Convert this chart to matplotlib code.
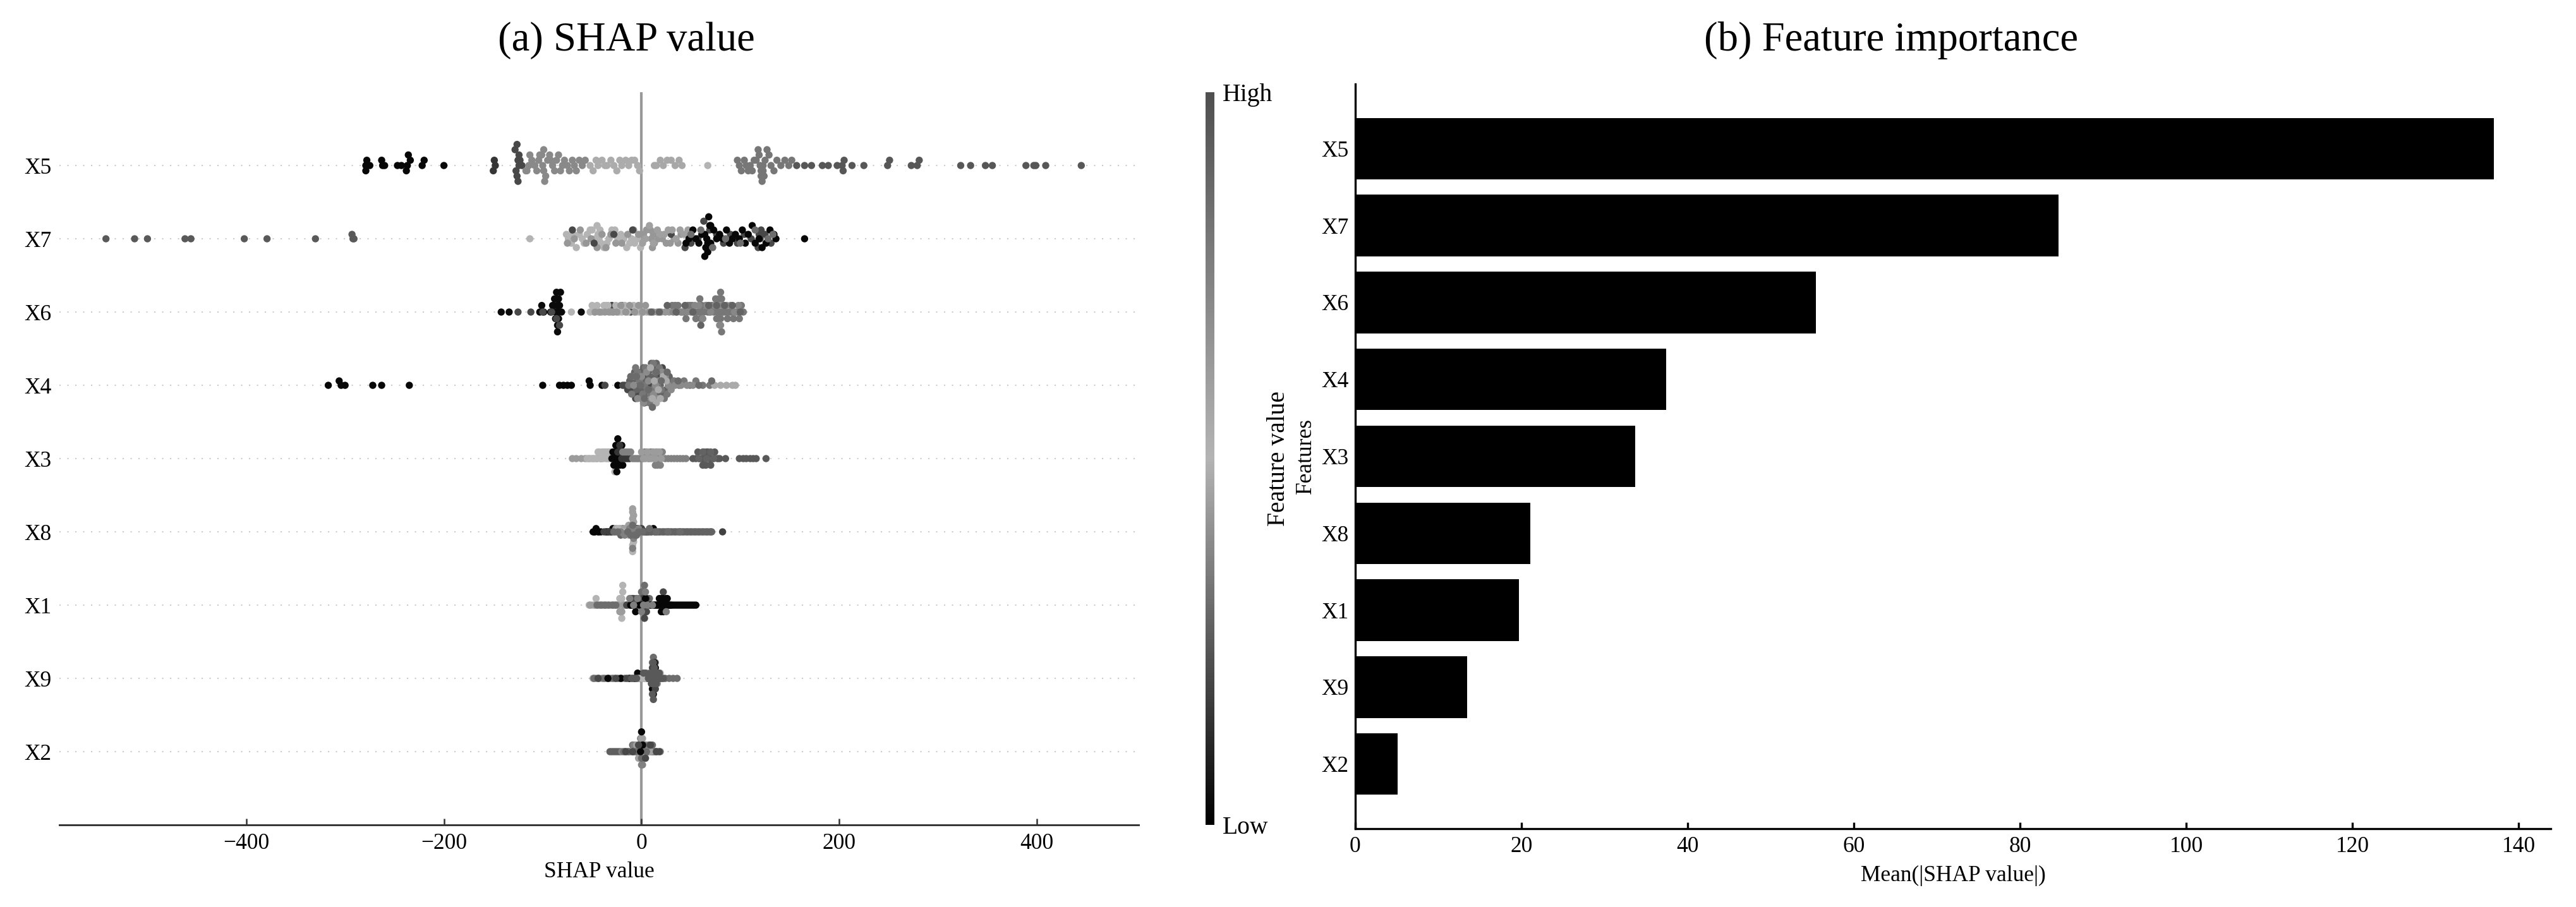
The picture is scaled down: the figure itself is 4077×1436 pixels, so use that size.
import numpy as np
import matplotlib.pyplot as plt
from matplotlib.colors import LinearSegmentedColormap

plt.rcParams['font.family'] = ['Liberation Serif', 'DejaVu Serif']

# feature order, top to bottom
features = ['X5', 'X7', 'X6', 'X4', 'X3', 'X8', 'X1', 'X9', 'X2']

# mean |SHAP| per feature (panel b)
mean_abs_shap = [137.0, 84.6, 55.4, 37.4, 33.7, 21.1, 19.7, 13.5, 5.1]

# SHAP values per feature, grouped by (feature value, [shap values])
x5_points = [
    (0.02, [-279, -279, -278, -275, -263, -262, -260, -247, -243, -238, -237, -236, -234, -222, -220, -200]),
    (0.15, [-150, -149, -148]),
    (0.20, [-128, -127, -126, -126, -125, -125, -124, -124, -123, -121]),
    (0.38, [-117, -116, -114, -113, -111, -108, -106, -104, -103, -101, -100, -99, -99, -98, -97, -95,
            -93, -92, -90, -88, -86, -84, -82, -80, -78, -75, -73, -70, -68, -66, -63, -60, -57]),
    (0.48, [-52, -49, -46, -44, -40, -37, -35, -31, -28, -25, -22, -20, -16, -13, -10, -7, -4, -2]),
    (0.56, [13, 15, 19, 22, 26, 30, 34, 38, 41]),
    (0.50, [67]),
    (0.80, [97, 99, 101, 104, 106, 108, 110, 112, 114, 116, 118, 119, 120, 121, 121, 122, 123, 123,
            124, 125, 127, 129, 131, 134, 137, 141, 145, 149, 152]),
    (0.96, [157, 165, 172, 183, 189, 198, 203, 204, 205, 213, 225, 249, 251, 273, 279, 281, 323, 333,
            348, 355, 389, 397, 399, 409, 445]),
]
x7_points = [
    (0.95, [-542, -513, -500, -462, -456, -402, -379, -330, -293, -292, -291]),
    (0.50, [-113, -76, -74, -71, -69, -66, -63, -60, -58, -55, -52, -50, -47, -45, -44, -43, -42,
            -41, -38, -35, -33, -30, -27, -24, -21, -18, -15, -12, -10, -7, -4, -1]),
    (0.42, [-75, -68, -62, -56, -51, -45, -40, -36, -31, -26, -20, -14, -8, -3, 2, 5, 9, 10, 11, 12,
            13, 17, 21, 25, 29, 33, 37, 40]),
    (0.20, [-70, -48, -28, -9, 30, 44, 50, 57, 63, 69, 76, 83, 90, 97, 104, 111, 118, 119, 120, 121,
            125, 131]),
    (0.60, [1, 4, 8, 12, 16, 19, 23, 27, 31, 35, 39, 43, 47]),
    (0.02, [45, 48, 52, 55, 58, 61, 64, 64, 65, 66, 67, 67, 68, 69, 70, 70, 73, 76, 79, 82, 86, 89,
            92, 95, 99, 102, 105, 108, 112, 115, 119, 122, 126, 130, 134, 136, 165]),
    (0.85, [50, 60, 72, 85, 100, 115, 128, 133]),
]
x6_points = [
    (0.03, [-142, -134, -103, -101, -99, -92, -90, -89, -88, -87, -87, -86, -86, -86, -85, -85, -85,
            -84, -84, -84, -83, -82, -81, -61]),
    (0.20, [-125, -112, -100, -91, -86, -83, -30, -20, -11]),
    (0.50, [-71, -52, -50, -48, -45, -43, -40, -38, -36, -34, -31, -28, -26, -23, -20, -17, -14, -8,
            -5, -2, 2, 5]),
    (0.65, [-47, -42, -37, -33, -29, -25, -21, -16, -12, -7, -3, 1, 4, 8, 12, 16, 20, 24, 28]),
    (0.80, [31, 34, 37, 40, 43, 45, 47, 49, 51, 53, 55, 57, 59, 59, 60, 61, 61, 63, 65, 67, 69, 71,
            73, 75, 76, 77, 78, 79, 79, 80, 80, 81, 81, 82, 83, 85, 87, 89, 91, 93, 95, 97, 99, 101, 103]),
    (0.72, [32, 36, 41, 46, 50, 54, 58, 62, 66, 70, 74, 78, 79, 80, 82, 86, 90, 94, 98]),
    (0.90, [10, 18, 26, 35, 44, 52, 60, 68, 76, 84, 92, 100]),
]
x4_points = [
    (0.02, [-317, -306, -304, -300, -272, -263, -235, -100, -83, -79, -75, -71, -53, -52, -40, -24]),
    (0.20, [-37, -19, -17, -14, -10, -6, -3, 0, 3, 6, 9, 13, 17, 21]),
    (0.90, [-12, -9, -7, -5, -3, -1, 1, 2, 4, 5, 7, 8, 10, 11, 13, 15, 17, 19, 22, 25, 28, 31]),
    (0.80, [-13, -10, -8, -6, -4, -2, 0, 1, 3, 4, 6, 8, 9, 11, 12, 14, 16, 18, 20, 23, 26, 29, 33,
            38, 43, 49, 55, 62, 69]),
    (0.70, [-8, -4, 0, 2, 5, 7, 10, 12, 14, 16, 18, 21, 24, 27, 30, 34, 40, 46, 52]),
    (0.55, [9, 11, 13, 15, 17, 19, 22, 25, 74, 80, 86, 92, 95]),
    (0.30, [-11, -5, -1, 3, 7, 11, 15, 20, 26, 37, 58, 71]),
]
x3_points = [
    (0.62, [-70, -66, -61, -57, -53, -49, -45, -41]),
    (0.50, [-55, -51, -47, -44, -43, -42, -40, -39, -38, -37, -36, -35, -34, -33, -32, -31, -27, -25]),
    (0.02, [-30, -29, -28, -28, -27, -27, -26, -26, -25, -25, -24, -24, -23, -23, -22, -21, -20, -19]),
    (0.15, [-24, -22, -21, -20, -18, -16, -14, -12]),
    (0.75, [-19, -17, -15, -13, -11, -9, -7, -5, -3, -1, 1, 3, 5, 7, 9, 11, 13, 14, 15, 16, 17, 18,
            19, 21, 24, 27, 30, 33, 36, 39, 42, 45]),
    (0.62, [0, 2, 4, 6, 8, 10, 12, 14, 16, 18, 20]),
    (0.95, [52, 55, 57, 59, 61, 62, 63, 64, 65, 66, 67, 68, 69, 70, 72, 74, 77, 79, 85, 99, 103, 106,
            110, 113, 116, 126]),
    (0.90, [58, 62, 66, 70, 73]),
]
x8_points = [
    (0.02, [-49, -48, -47, -46, -44, -43, -41, -36, -34, -31, -29, -6, -4, -2, 5, 12]),
    (0.18, [-38, -33, -30, 0, 3, 7, 10, 14, 18, 22, 26, 30, 34, 38, 42, 46, 50, 54, 58, 62, 66, 70, 82]),
    (0.90, [-27, -25, -23, -21, -19, 2, 6, 9, 13, 16, 20, 24, 28, 32, 36, 40, 44, 48, 52, 56, 60, 64,
            68, 71]),
    (0.60, [-26, -22, -20, -18, -17, -16, -15, -14, -13, -12, -11, -10, -10, -9, -9, -9, -9, -8, -8,
            -8, -7]),
    (0.50, [-24, -19, -15, -13, -11, -10, -9, -9, -9, -8, -7, -6]),
    (0.75, [-21, -17, -12, -10, -9, -8, -5, -3, -1]),
    (0.30, [-28, -24, -14, -11, -9, -7, -5, -3, 1, 8, 15, 27, 39]),
]
x1_points = [
    (0.50, [-53, -50, -48, -46, -44, -42, -40, -38, -36, -34, -31, -28, -25, -23, -22, -22, -21, -21,
            -20, -20, -20, -19, -19, -17]),
    (0.62, [-52, -47, -43, -39, -35, -30, -27, -24, -22, -20, -18, -16, -14]),
    (0.85, [-45, -41, -37, -33, -29, -26, -12, -10, -8, -6, -4, -2, 0, 0, 1, 1, 1, 2, 2, 2, 3, 3, 3,
            4, 4, 5, 6, 8]),
    (0.20, [-15, -11, -9, -7, -5, -3, -1, 1, 3, 3, 3, 5, 5, 7, 10, 14, 18, 22, 26, 30]),
    (0.02, [-11, -9, -6, -2, 0, 4, 9, 12, 13, 15, 16, 17, 18, 19, 20, 20, 20, 21, 22, 22, 23, 24, 25,
            25, 26, 27, 28, 29, 31, 33, 35, 37, 39, 41, 43, 45, 47, 49, 51, 53, 55]),
    (0.35, [-12, -8, -4, 0, 2, 4, 6, 11, 25]),
]
x9_points = [
    (0.62, [-49, -46, -40, -36, -31, -27, -22, -4, 3, 7, 12, 16]),
    (0.85, [-48, -43, -38, -33, -29, -24, -20, -17, -13, 5, 9, 11, 11, 11, 12, 12, 13, 14, 15, 17, 19,
            21, 24, 28, 32, 36]),
    (0.02, [-34, -21, -12, -7, -4, -2, 10, 11, 12, 12, 13, 13, 13, 14, 14, 14, 15]),
    (0.20, [-44, -26, -15, -9, -6, 0, 6, 8, 10, 11, 12, 14, 16, 18]),
    (0.50, [-3, -1, 1, 2, 4, 6, 8, 19]),
    (0.95, [-10, -5, 2, 4, 7, 9, 10, 11, 11, 12, 12, 12, 13, 13, 14, 15, 16, 17, 18, 20, 22]),
]
x2_points = [
    (0.92, [-32, -30, -28, -26, -24, -22, -9, -5, -2, 1, 4, 7, 10, 12, 14]),
    (0.75, [-20, -17, -14, -12, -10, -8, -6, -4, -3, -1, 0, 0, 1, 2, 3, 5, 6, 8, 11, 13, 16, 19]),
    (0.60, [-15, -11, -7, -5, -4, -3, -2, -1, -1, 0, 0, 1, 1, 2, 3, 4, 6, 9]),
    (0.30, [-18, -13, -8, -6, -2, 0, 2, 5, 8, 11]),
    (0.02, [-1, 0, 1]),
    (0.20, [-16, -9, -3, 4, 9, 15, 18]),
]

shap_points = {'X5': x5_points, 'X7': x7_points, 'X6': x6_points, 'X4': x4_points,
               'X3': x3_points, 'X8': x8_points, 'X1': x1_points, 'X9': x9_points,
               'X2': x2_points}

# grey version of the shap colormap: low = black, mid = light grey, high = dark grey
cmap = LinearSegmentedColormap.from_list('grey_shap', [(0.0, '#000000'), (0.5, '#b4b4b4'), (1.0, '#4f4f4f')])


def swarm_offsets(vals, row_height=0.4, nbins=100):
    # same binning/stacking idea as shap's beeswarm
    vals = np.asarray(vals, dtype=float)
    quant = np.round(nbins * (vals - vals.min()) / (vals.max() - vals.min() + 1e-8))
    order_key = (np.arange(len(vals)) * 0.6180339887) % 1.0
    inds = np.argsort(quant + order_key * 1e-3)
    ys = np.zeros(len(vals))
    layer = 0
    last_bin = -1
    for i in inds:
        if quant[i] != last_bin:
            layer = 0
        ys[i] = np.ceil(layer / 2) * ((layer % 2) * 2 - 1)
        layer += 1
        last_bin = quant[i]
    ys *= 0.9 * (row_height / np.max(ys + 1))
    return ys


fig = plt.figure(figsize=(4077 / 300, 1436 / 300), dpi=300)
ax1 = fig.add_axes([0.0231, 0.0905, 0.4189, 0.8078])
cax = fig.add_axes([0.4680, 0.0905, 0.0034, 0.8078])
ax2 = fig.add_axes([0.5261, 0.0864, 0.4641, 0.8210])

# (a) beeswarm
n = len(features)
for k, name in enumerate(features):
    row = n - 1 - k
    groups = shap_points[name]
    vals = np.concatenate([np.asarray(g[1], dtype=float) for g in groups])
    fvals = np.concatenate([np.full(len(g[1]), g[0]) for g in groups])
    ys = swarm_offsets(vals)
    ax1.axhline(row, color='#cccccc', lw=0.5, dashes=(1, 5), zorder=-1)
    ax1.scatter(vals, row + ys, s=7.5, c=fvals, cmap=cmap, vmin=0, vmax=1, linewidth=0, zorder=3)

ax1.axvline(0, color='#999999', lw=1, zorder=-1)
ax1.set_yticks(range(n))
ax1.set_yticklabels(features[::-1])
ax1.set_ylim(-1, n)
ax1.set_xlim(-589, 503)
for side in ['top', 'right', 'left']:
    ax1.spines[side].set_visible(False)
ax1.spines['bottom'].set_color('#333333')
ax1.spines['bottom'].set_linewidth(0.7)
ax1.tick_params(axis='x', direction='in', length=2.5, width=0.6, pad=3, labelsize=8.5, color='#333333')
ax1.tick_params(axis='y', length=0, pad=3, labelsize=8.5)
ax1.set_xlabel('SHAP value', fontsize=8.5, labelpad=3)

# colorbar
sm = plt.cm.ScalarMappable(cmap=cmap, norm=plt.Normalize(0, 1))
cb = fig.colorbar(sm, cax=cax, ticks=[0, 1])
cb.set_ticklabels(['Low', 'High'])
cb.ax.tick_params(labelsize=9.5, length=0, pad=3)
cb.set_label('Feature value', size=9.5)
cb.ax.yaxis.set_label_coords(7.0, 0.5)
cb.outline.set_visible(False)

# (b) feature importance
ax2.barh(range(n), mean_abs_shap, height=0.8, color='black')
ax2.set_yticks(range(n))
ax2.set_yticklabels(features)
ax2.invert_yaxis()
ax2.spines['top'].set_visible(False)
ax2.spines['right'].set_visible(False)
ax2.tick_params(axis='x', direction='in', length=2.5, pad=3, labelsize=8.5)
ax2.tick_params(axis='y', length=0, pad=2.6, labelsize=8.5)
ax2.set_xlabel('Mean(|SHAP value|)', fontsize=8.5, labelpad=3)
ax2.set_ylabel('Features', fontsize=8.5)
ax2.yaxis.set_label_coords(-0.033, 0.5)

fig.text(0.2431, 0.944, '(a) SHAP value', ha='center', va='baseline', fontsize=15.5)
fig.text(0.7341, 0.944, '(b) Feature importance', ha='center', va='baseline', fontsize=15.5)

fig.savefig('out.png', dpi=300)
